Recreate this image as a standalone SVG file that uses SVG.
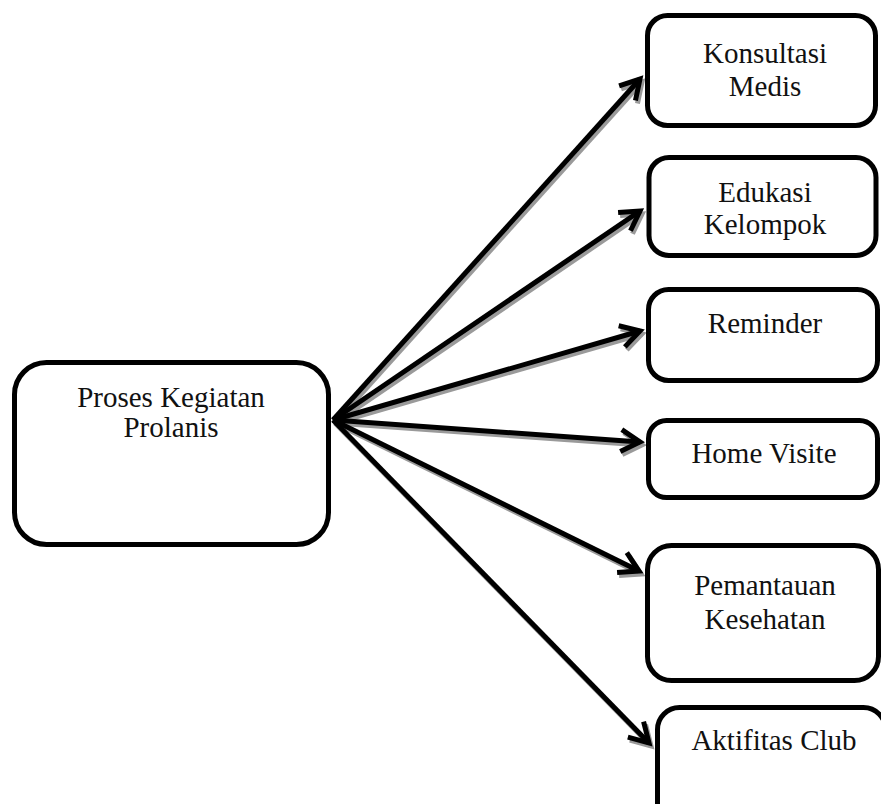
<svg xmlns="http://www.w3.org/2000/svg" width="881" height="804" viewBox="0 0 881 804">
<style>
.box{fill:#fff;stroke:#000;stroke-width:5}
.t{font-family:"Liberation Serif","Times New Roman",serif;font-size:29px;fill:#111;text-anchor:middle}
.c{stroke:#000;stroke-width:5;fill:none}
.s{stroke:#9a9a9a;stroke-width:5;fill:none}
</style>
<defs>
<marker id="ah" markerUnits="userSpaceOnUse" viewBox="-30 -20 40 40" markerWidth="40" markerHeight="40" refX="0" refY="0" orient="auto">
<path d="M-19 -11 L0 0 L-19 11" fill="none" stroke="#000" stroke-width="5"/>
</marker>
<marker id="ahs" markerUnits="userSpaceOnUse" viewBox="-30 -20 40 40" markerWidth="40" markerHeight="40" refX="0" refY="0" orient="auto">
<path d="M-19 -11 L0 0 L-19 11" fill="none" stroke="#9a9a9a" stroke-width="5"/>
</marker>
</defs>
<rect width="881" height="804" fill="#fff"/>
<g id="connectors">
<g transform="translate(2,3)">
<line class="s" x1="333" y1="420" x2="640" y2="79" marker-end="url(#ahs)"/>
<line class="s" x1="333" y1="420" x2="640" y2="211" marker-end="url(#ahs)"/>
<line class="s" x1="333" y1="420" x2="640" y2="331" marker-end="url(#ahs)"/>
<line class="s" x1="333" y1="420" x2="640" y2="442" marker-end="url(#ahs)"/>
<line class="s" x1="333" y1="420" x2="639" y2="571" marker-end="url(#ahs)"/>
<line class="s" x1="333" y1="420" x2="649" y2="743" marker-end="url(#ahs)"/>
</g>
<line class="c" x1="333" y1="420" x2="640" y2="79" marker-end="url(#ah)"/>
<line class="c" x1="333" y1="420" x2="640" y2="211" marker-end="url(#ah)"/>
<line class="c" x1="333" y1="420" x2="640" y2="331" marker-end="url(#ah)"/>
<line class="c" x1="333" y1="420" x2="640" y2="442" marker-end="url(#ah)"/>
<line class="c" x1="333" y1="420" x2="639" y2="571" marker-end="url(#ah)"/>
<line class="c" x1="333" y1="420" x2="649" y2="743" marker-end="url(#ah)"/>
</g>
<g id="proses">
<rect class="box" x="14.5" y="362.5" width="314" height="182" rx="32"/>
<text class="t" x="171" y="407">Proses Kegiatan</text>
<text class="t" x="171" y="437">Prolanis</text>
</g>
<g id="konsultasi">
<rect class="box" x="647.5" y="15.5" width="228" height="110" rx="20"/>
<text class="t" x="765" y="63">Konsultasi</text>
<text class="t" x="765" y="96">Medis</text>
</g>
<g id="edukasi">
<rect class="box" x="649" y="157.5" width="227" height="98" rx="20"/>
<text class="t" x="765" y="202">Edukasi</text>
<text class="t" x="765" y="234">Kelompok</text>
</g>
<g id="reminder">
<rect class="box" x="648.5" y="289.5" width="229" height="91" rx="20"/>
<text class="t" x="765" y="333">Reminder</text>
</g>
<g id="homevisite">
<rect class="box" x="648.5" y="420.5" width="229" height="77" rx="18"/>
<text class="t" x="764" y="463">Home Visite</text>
</g>
<g id="pemantauan">
<rect class="box" x="647.5" y="545.5" width="231" height="135" rx="24"/>
<text class="t" x="765" y="595">Pemantauan</text>
<text class="t" x="765" y="629">Kesehatan</text>
</g>
<g id="aktifitas">
<rect class="box" x="657.5" y="707.5" width="228" height="125" rx="22"/>
<text class="t" x="774" y="750">Aktifitas Club</text>
</g>
</svg>
